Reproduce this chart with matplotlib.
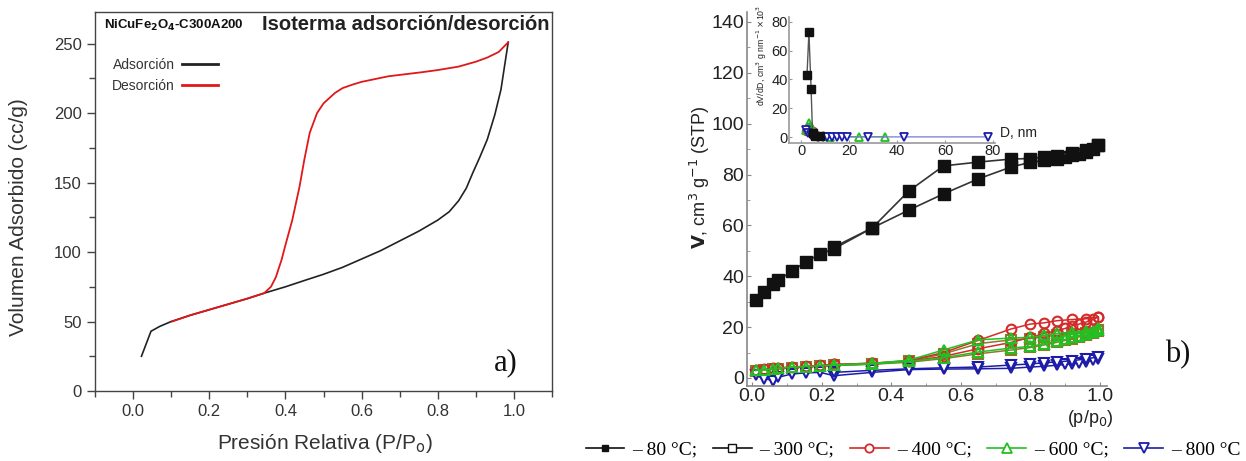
import matplotlib
matplotlib.use("Agg")
import matplotlib.pyplot as plt
from matplotlib.lines import Line2D
from matplotlib.ticker import MultipleLocator, FixedLocator, FixedFormatter

plt.rcParams['font.family'] = ['Liberation Sans', 'DejaVu Sans']

# ---------------- Panel a data ----------------
ads_x = [0.022, 0.047, 0.07, 0.1, 0.15, 0.2, 0.25, 0.3, 0.344, 0.4, 0.455, 0.5, 0.55,
         0.6, 0.65, 0.7, 0.75, 0.8, 0.83, 0.855, 0.875, 0.892, 0.91, 0.93, 0.95, 0.966, 0.985]
ads_y = [25, 43, 46.5, 50, 54.5, 58.5, 62.5, 66.5, 70.4, 75, 80, 84, 89,
         95, 101, 108, 115, 123, 129, 137, 146, 157, 168, 181, 199, 217, 251]
des_x = [0.985, 0.96, 0.93, 0.9, 0.855, 0.8, 0.76, 0.7, 0.67, 0.6, 0.576, 0.55, 0.53, 0.5,
         0.483, 0.464, 0.45, 0.437, 0.418, 0.4, 0.39, 0.375, 0.362, 0.344, 0.3, 0.25, 0.2, 0.15, 0.102]
des_y = [251, 244, 240, 237, 233.5, 231, 229.5, 227.5, 226.5, 222.5, 220.5, 218, 214.5, 207,
         200, 186, 167, 147, 123, 105, 94.5, 82, 75, 70.4, 66.5, 62.5, 58.5, 54.5, 50]

# ---------------- Panel b data ----------------
p_ads = [0.01, 0.035, 0.06, 0.075, 0.115, 0.155, 0.195, 0.235, 0.345, 0.45, 0.55,
         0.65, 0.745, 0.80, 0.84, 0.875, 0.90, 0.92, 0.94, 0.96, 0.98, 0.995]
p_des = [0.995, 0.96, 0.92, 0.875, 0.84, 0.80, 0.745, 0.65, 0.55, 0.45, 0.345, 0.235]

v80_ads = [30.5, 34, 37, 38.5, 42, 45.8, 48.7, 50.8, 59, 66, 72.4,
           78.3, 83, 84.8, 85.6, 86.3, 87, 87.6, 88.2, 89, 90.2, 91.5]
v80_des = [91.5, 89.8, 88.6, 87.4, 86.9, 86.3, 86.1, 84.9, 83.4, 73.5, 59, 51.5]

v300_ads = [2.8, 3.1, 3.4, 3.6, 4.0, 4.3, 4.6, 4.9, 5.4, 6.2, 7.6,
            9.5, 11.0, 12.0, 13.0, 14.0, 14.8, 15.5, 16.2, 16.8, 17.5, 18.3]
v300_des = [18.8, 17.8, 17.3, 16.8, 16.2, 15.5, 15.0, 13.5, 9.5, 6.6, 5.5, 5.0]

v400_ads = [3.0, 3.5, 3.8, 4.0, 4.3, 4.6, 5.0, 5.3, 5.8, 6.5, 8.5,
            11.5, 14.0, 16.0, 17.5, 18.5, 19.5, 20.5, 21.2, 22.0, 23.0, 24.0]
v400_des = [24.0, 23.3, 23.0, 22.5, 21.7, 21.2, 19.3, 14.8, 10.0, 6.8, 5.8, 5.3]

v600_ads = [3.0, 3.3, 3.6, 3.8, 4.2, 4.5, 4.8, 5.0, 5.5, 6.5, 8.0,
            10.2, 11.8, 12.4, 13.5, 14.5, 15.2, 16.0, 16.7, 17.3, 18.0, 19.0]
v600_des = [19.5, 18.6, 18.0, 17.5, 16.8, 16.0, 15.7, 15.0, 11.0, 7.0, 5.7, 5.2]

v800_ads = [1.0, -0.3, -1.0, 0.3, 1.6, 2.0, 2.2, 0.9, 2.2, 3.3, 3.5,
            3.6, 3.8, 4.3, 4.6, 5.0, 5.3, 5.6, 5.9, 6.3, 7.0, 7.6]
v800_des = [8.3, 7.5, 6.8, 6.3, 6.0, 5.5, 5.1, 4.3, 4.0, 3.6, 3.0, 2.2]

# inset (pore size distribution)
d80 = [2.5, 3.3, 4.2, 4.8, 6, 8]
s80 = [43, 72.6, 33.6, 3, 1, 0.5]
d400 = [2, 3.5, 5, 7, 9]
s400 = [4, 7, 4, 1, 0.5]
d600 = [2, 3.5, 5, 7, 9, 12, 24, 35]
s600 = [5, 10, 5, 1, 0.5, 0.3, 0.2, 0.2]
d800 = [2, 3, 4, 5, 7, 9, 11, 13, 15, 17, 19, 28, 43, 78]
s800 = [5, 3, 1.5, 1, 0.3, 0.2, 0.1, 0.1, 0.1, 0.1, 0.1, 0.1, 0.1, 0.1]

labels_b = ['– 80 °C;', '– 300 °C;', '– 400 °C;', '– 600 °C;', '– 800 °C']
inset_yticks = [0, 20, 40, 60, 80]
inset_yticklabels = ['0', '20', '40', '60', '80']

C_BLACK = '#111111'
C_RED = '#d42a2a'
C_GREEN = '#22c022'
C_BLUE = '#1c1ca8'
C_OLIVE = '#8c7a2a'

W, H = 1246, 461
fig = plt.figure(figsize=(W / 100, H / 100), dpi=100)


def rect(x0, y0, x1, y1):
    return [x0 / W, 1 - y1 / H, (x1 - x0) / W, (y1 - y0) / H]


# ================= Panel a =================
axa = fig.add_axes(rect(95, 11.7, 552, 391))
axa.plot(ads_x, ads_y, color='#222222', lw=1.2, label='Adsorción')
axa.plot(des_x, des_y, color='#e01818', lw=1.3, label='Desorción')
axa.set_xlim(-0.1, 1.1)
axa.set_ylim(0, 273)
axa.xaxis.set_major_locator(MultipleLocator(0.2))
axa.xaxis.set_minor_locator(MultipleLocator(0.1))
axa.yaxis.set_major_locator(MultipleLocator(50))
axa.yaxis.set_minor_locator(MultipleLocator(25))
axa.xaxis.set_major_formatter(matplotlib.ticker.FormatStrFormatter('%.1f'))
axa.tick_params(which='both', direction='out', color='#444444', labelcolor='#333333',
                labelsize=12, top=False, right=False)
axa.tick_params(which='major', length=6, width=1)
axa.tick_params(which='minor', length=4, width=1)
for s in axa.spines.values():
    s.set_color('#444444')
    s.set_linewidth(1.0)
axa.text(0.02, 0.965, r'NiCuFe$_\mathbf{2}$O$_\mathbf{4}$-C300A200', transform=axa.transAxes,
         fontsize=9.5, fontweight='bold', ha='left', va='center', color='#111111')
axa.text(0.995, 0.965, 'Isoterma adsorción/desorción', transform=axa.transAxes,
         fontsize=14.5, fontweight='bold', ha='right', va='center', color='#222222')
leg = axa.legend(loc='upper left', bbox_to_anchor=(0.01, 0.91), frameon=False,
                 markerfirst=False, fontsize=10, handlelength=2.6, labelspacing=0.45,
                 handletextpad=0.5, labelcolor='#333333')
for ln in leg.get_lines():
    ln.set_linewidth(2.0)
fig.text(19 / W, 1 - 217 / H, 'Volumen Adsorbido (cc/g)', rotation=90, ha='center',
         va='center', fontsize=15, color='#333333')
fig.text(325 / W, 1 - 443 / H, r'Presión Relativa (P/P$_\mathrm{o}$)', ha='center',
         va='center', fontsize=15, color='#333333')
fig.text(506 / W, 1 - 363 / H, 'a)', ha='center', va='center', fontsize=22,
         family='Liberation Serif', color='#111111')

# ================= Panel b (main) =================
axb = fig.add_axes(rect(747, 11.8, 1107, 385.6))
mk = dict(markersize=7, markeredgewidth=1.5, lw=1.1)
axb.plot(p_ads, v300_ads, color=C_OLIVE, marker='s', mfc='none', mec=C_OLIVE, **mk)
axb.plot(p_des, v300_des, color=C_OLIVE, marker='s', mfc='none', mec=C_OLIVE, **mk)
axb.plot(p_ads, v800_ads, color=C_BLUE, marker='v', mfc='white', mec=C_BLUE, **mk)
axb.plot(p_des, v800_des, color=C_BLUE, marker='v', mfc='white', mec=C_BLUE, **mk)
axb.plot(p_ads, v400_ads, color=C_RED, marker='o', mfc='none', mec=C_RED, **mk)
axb.plot(p_des, v400_des, color=C_RED, marker='o', mfc='none', mec=C_RED, **mk)
axb.plot(p_ads, v600_ads, color=C_GREEN, marker='^', mfc='none', mec=C_GREEN, **mk)
axb.plot(p_des, v600_des, color=C_GREEN, marker='^', mfc='none', mec=C_GREEN, **mk)
axb.plot(p_ads, v80_ads, color='#333333', marker='s', mfc=C_BLACK, mec=C_BLACK,
         markersize=8, lw=1.2)
axb.plot(p_des, v80_des, color='#333333', marker='s', mfc=C_BLACK, mec=C_BLACK,
         markersize=8, lw=1.2)
axb.set_xlim(-0.015, 1.02)
axb.set_ylim(-3, 144)
axb.xaxis.set_major_locator(MultipleLocator(0.2))
axb.xaxis.set_minor_locator(MultipleLocator(0.1))
axb.yaxis.set_major_locator(MultipleLocator(20))
axb.yaxis.set_minor_locator(MultipleLocator(10))
axb.xaxis.set_major_formatter(matplotlib.ticker.FormatStrFormatter('%.1f'))
axb.tick_params(which='both', direction='in', color='#888888', labelcolor='#222222',
                labelsize=14, top=False, right=False, pad=2)
axb.tick_params(which='major', length=3)
axb.tick_params(which='minor', length=2)
for side in ['top', 'right']:
    axb.spines[side].set_visible(False)
for side in ['left', 'bottom']:
    axb.spines[side].set_color('#888888')
    axb.spines[side].set_linewidth(1.2)
fig.text(700 / W, 1 - 177 / H, r'$\mathbf{V}$, cm$^3$ g$^{-1}$ (STP)', rotation=90,
         ha='center', va='center', fontsize=13, color='#222222')
fig.text(1090 / W, 1 - 418 / H, r'(p/p$_0$)', ha='center', va='center', fontsize=13,
         color='#222222')
fig.text(1178 / W, 1 - 355 / H, 'b)', ha='center', va='center', fontsize=22,
         family='Liberation Serif', color='#111111')

# ================= Inset =================
axi = fig.add_axes(rect(789, 17.5, 995.4, 142.8))
axi.patch.set_alpha(0)
mi = dict(markersize=5.5, markeredgewidth=1.3, lw=0.9)
axi.plot(d400, s400, color='#e06a20', marker='o', mfc='none', mec=C_RED, **mi)
axi.plot(d600, s600, color=C_GREEN, marker='^', mfc='none', mec=C_GREEN, **mi)
axi.plot(d800, s800, color='#7a78d8', marker='v', mfc='white', mec=C_BLUE, **mi)
axi.plot(d80, s80, color='#555555', marker='s', mfc=C_BLACK, mec=C_BLACK,
         markersize=6, lw=1.0)
axi.set_xlim(-5, 81)
axi.set_ylim(-4, 83)
axi.xaxis.set_major_locator(MultipleLocator(20))
axi.yaxis.set_major_locator(FixedLocator(inset_yticks))
axi.yaxis.set_major_formatter(FixedFormatter(inset_yticklabels))
axi.tick_params(which='both', direction='in', length=2, color='#999999',
                labelcolor='#222222', labelsize=10.5, pad=1)
for side in ['top', 'right']:
    axi.spines[side].set_visible(False)
for side in ['left', 'bottom']:
    axi.spines[side].set_color('#999999')
    axi.spines[side].set_linewidth(1.2)
fig.text(762 / W, 1 - 55 / H, r'dV/dD, cm$^3$ g nm$^{-1}$ $\times$10$^3$', rotation=90,
         ha='center', va='center', fontsize=6.3, color='#222222')
fig.text(1000 / W, 1 - 133 / H, 'D, nm', ha='left', va='center', fontsize=10,
         color='#222222')

# ================= Legend (panel b) =================
handles = [
    Line2D([], [], color=C_BLACK, marker='s', mfc=C_BLACK, mec=C_BLACK, markersize=5, lw=1.2),
    Line2D([], [], color=C_BLACK, marker='s', mfc='white', mec=C_BLACK, markersize=6, lw=1.2),
    Line2D([], [], color=C_RED, marker='o', mfc='white', mec=C_RED, markersize=6, lw=1.2,
           markeredgewidth=1.3),
    Line2D([], [], color=C_GREEN, marker='^', mfc='white', mec=C_GREEN, markersize=7, lw=1.2,
           markeredgewidth=1.3),
    Line2D([], [], color=C_BLUE, marker='v', mfc='white', mec=C_BLUE, markersize=7, lw=1.2,
           markeredgewidth=1.3),
]
fig.legend(handles, labels_b, loc='center', bbox_to_anchor=(913 / W, 1 - 450 / H),
           ncol=5, frameon=False, handlelength=2.0, handletextpad=0.4, columnspacing=0.8,
           prop={'family': 'Liberation Serif', 'size': 14})

fig.savefig('out.png', dpi=100)
